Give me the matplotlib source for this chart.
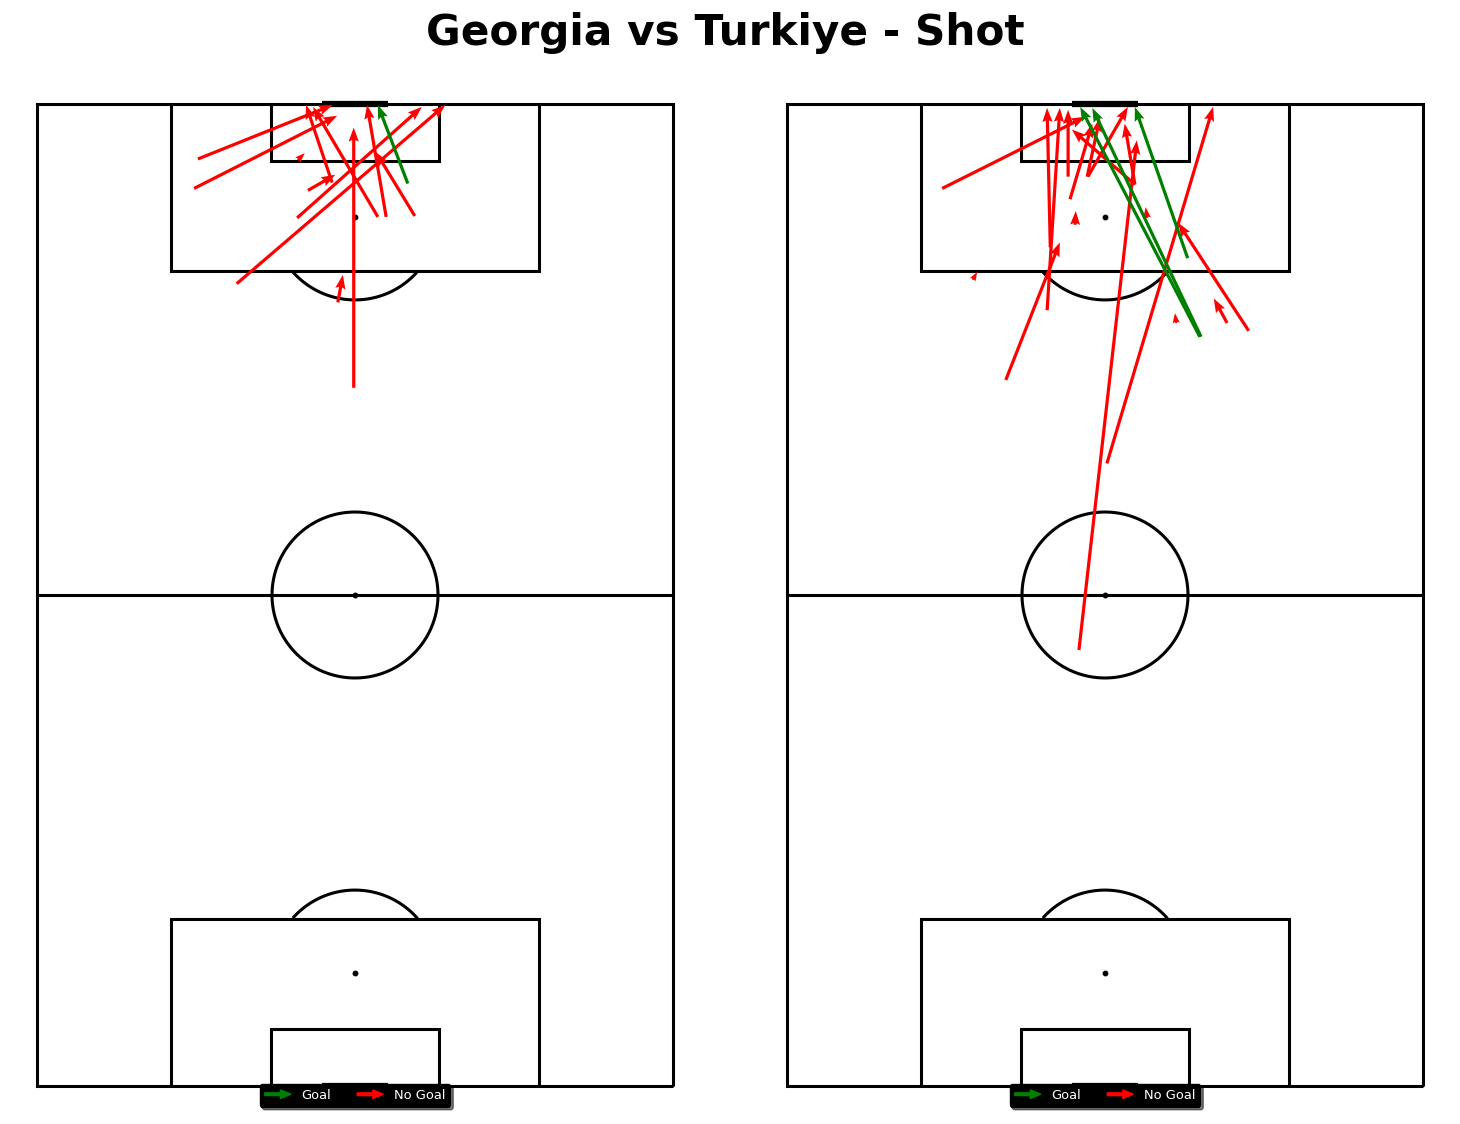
import numpy as np
import matplotlib.pyplot as plt
from matplotlib.patches import Patch, FancyArrow
from matplotlib.legend_handler import HandlerPatch


# Shots in opta coordinates: x along the pitch (0-100, attacking upwards), y across it
geo_x = [94.4, 91.4, 92.0, 91.2, 88.5, 88.5, 88.6, 71.1, 81.7, 88.4, 91.9, 94.3, 79.8]
geo_y = [74.7, 75.3, 53.6, 57.4, 46.4, 45.1, 40.6, 50.2, 68.6, 59.1, 41.7, 59.0, 52.7]
geo_end_x = [99.9, 98.8, 99.9, 92.8, 99.7, 99.9, 95.1, 97.6, 99.9, 99.7, 99.9, 95.0, 82.6]
geo_end_y = [53.5, 52.8, 57.7, 53.1, 56.6, 48.1, 46.7, 50.2, 35.8, 39.5, 46.4, 57.9, 51.9]
geo_goal = [0, 0, 0, 0, 0, 0, 0, 0, 0, 0, 1, 0, 0]

tur_x = [91.4, 85.4, 79.0, 92.6, 71.9, 91.8, 90.3, 92.6, 92.6, 91.8, 44.4, 63.4,
         76.9, 82.1, 87.7, 88.4, 77.7, 77.7, 76.3, 76.3, 84.3]
tur_y = [75.6, 58.6, 59.1, 55.8, 65.6, 45.3, 55.5, 52.8, 52.7, 45.3, 54.1, 49.7,
         27.4, 70.8, 54.7, 43.4, 38.8, 30.8, 35.1, 34.9, 37.0]
tur_end_x = [98.7, 99.6, 99.6, 99.4, 85.9, 97.4, 98.0, 98.6, 99.7, 98.0, 96.3, 99.7,
             87.9, 82.9, 89.1, 89.5, 78.7, 80.2, 99.7, 99.6, 99.7]
tur_end_y = [53.1, 59.1, 57.1, 55.8, 57.1, 55.2, 52.0, 50.8, 46.4, 46.9, 45.0, 33.0,
             38.5, 70.1, 54.6, 43.6, 39.0, 32.9, 53.9, 52.0, 45.3]
tur_goal = [0, 0, 0, 0, 0, 0, 0, 0, 0, 0, 0, 0, 0, 0, 0, 0, 0, 0, 1, 1, 1]

title = "Georgia vs Turkiye - Shot"

# figure layout (pixels)
W, H = 1460, 1124
PX_W, PX_L = 6.36, 9.82      # pixels per opta unit across / along the pitch
PAD = 1.5
TOP, BOTTOM = 104, 1086


def pline(ax, ys, xs, lw=2.2, **kw):
    ax.plot(ys, xs, color='black', lw=lw, zorder=1, solid_capstyle='butt',
            solid_joinstyle='miter', **kw)


def draw_pitch(ax):
    pline(ax, [0, 100, 100, 0, 0], [0, 0, 100, 100, 0])
    pline(ax, [0, 100], [50, 50])
    for flip in (False, True):
        f = (lambda v: 100 - v) if flip else (lambda v: v)
        # penalty area, six yard box
        pline(ax, [21.1, 21.1, 78.9, 78.9], [f(100), f(83), f(83), f(100)])
        pline(ax, [36.8, 36.8, 63.2, 63.2], [f(100), f(94.2), f(94.2), f(100)])
        # goal
        pline(ax, [44.8, 55.2], [f(100), f(100)], lw=4.5)
        # penalty spot
        ax.plot(50, f(88.5), 'o', color='black', ms=3.2, zorder=1)
        # the D
        t = np.linspace(0, 2 * np.pi, 400)
        hy = 50 + 13.05 * np.cos(t)
        hx = 88.5 + 8.45 * np.sin(t)
        m = hx <= 83
        order = np.argsort(hy[m])
        pline(ax, hy[m][order], f(hx[m][order]))
    t = np.linspace(0, 2 * np.pi, 400)
    pline(ax, 50 + 13.05 * np.cos(t), 50 + 8.45 * np.sin(t))
    ax.plot(50, 50, 'o', color='black', ms=3.2, zorder=1)


def arrow_handle(legend, orig_handle, xdescent, ydescent, width, height, fontsize):
    return FancyArrow(-xdescent, -ydescent + height / 2, width, 0,
                      width=height * 0.3, head_width=height * 0.95,
                      head_length=width * 0.4, length_includes_head=True)


def plot_shots(left_px, xs, ys, exs, eys, goals):
    ax = fig.add_axes([(left_px - PAD * PX_W) / W,
                       (H - BOTTOM - PAD * PX_L) / H,
                       (100 + 2 * PAD) * PX_W / W,
                       (100 + 2 * PAD) * PX_L / H])
    ax.set_xlim(100 + PAD, -PAD)
    ax.set_ylim(-PAD, 100 + PAD)
    ax.axis('off')
    draw_pitch(ax)

    xs, ys, exs, eys, goals = map(np.array, (xs, ys, exs, eys, goals))
    for flag, col in ((0, 'red'), (1, 'green')):
        m = goals == flag
        ax.quiver(ys[m], xs[m], eys[m] - ys[m], exs[m] - xs[m], color=col,
                  angles='xy', scale_units='xy', scale=1, units='dots',
                  width=3.2, headwidth=3.2, headlength=4.4, headaxislength=3.9,
                  zorder=3)

    handles = [Patch(facecolor='green', edgecolor='green', label='Goal'),
               Patch(facecolor='red', edgecolor='red', label='No Goal')]
    top_frac = (PAD + 0.25) / (100 + 2 * PAD)
    leg = ax.legend(handles=handles, handler_map={Patch: HandlerPatch(patch_func=arrow_handle)},
                    loc='upper center', bbox_to_anchor=(0.5, top_frac), ncol=2,
                    borderaxespad=0, fontsize=9.4, facecolor='black', edgecolor='black',
                    framealpha=1, shadow=True, labelcolor='white')
    leg.set_zorder(5)
    return ax


fig = plt.figure(figsize=(W / 100, H / 100), dpi=100)
plot_shots(37, geo_x, geo_y, geo_end_x, geo_end_y, geo_goal)
plot_shots(787, tur_x, tur_y, tur_end_x, tur_end_y, tur_goal)
fig.text(725 / W, 1 - 45 / H, title, ha='center', va='baseline', fontsize=30.4, fontweight='bold')

fig.savefig('out.png', dpi=100)
